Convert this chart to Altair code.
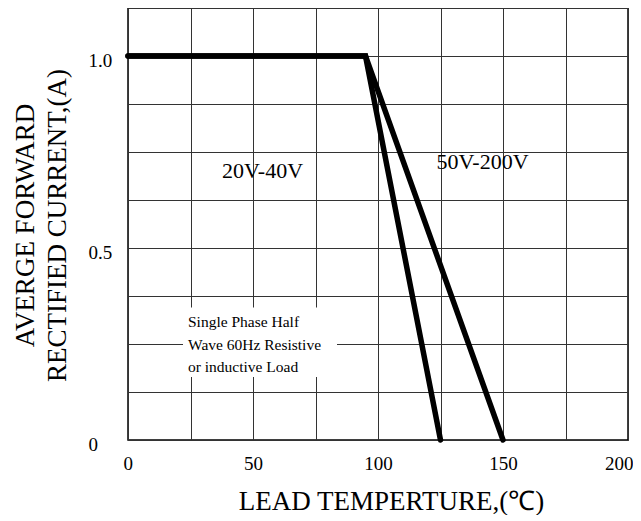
import altair as alt
import pandas as pd

# ---- data ----
series_names = ["20V-40V", "50V-200V"]
temp_20_40 = [0, 95, 125]
current_20_40 = [1.0, 1.0, 0.0]
temp_50_200 = [0, 95, 150]
current_50_200 = [1.0, 1.0, 0.0]

x_grid_values = [0, 25, 50, 75, 100, 125, 150, 175, 200]
x_label_values = [0, 50, 100, 150, 200]
y_grid_values = [0, 0.125, 0.25, 0.375, 0.5, 0.625, 0.75, 0.875, 1.0, 1.125]
y_label_values = [0, 0.5, 1.0]
y_label_texts = ["0", "0.5", "1.0"]

curve_labels = ["20V-40V", "50V-200V"]
curve_label_x = [53.8, 141.8]
curve_label_y = [0.683, 0.7065]

note_lines = ["Single Phase Half", "Wave 60Hz Resistive", "or inductive Load"]
note_x = [24, 24, 24]
note_y = [0.2935, 0.234, 0.177]
note_box = {"x0": [22], "x1": [83.6], "y0": [0.164], "y1": [0.345]}

FONT = "Liberation Serif"

# ---- tables ----
rows = []
for name, ts, cs in [(series_names[0], temp_20_40, current_20_40),
                     (series_names[1], temp_50_200, current_50_200)]:
    for k, (t, c) in enumerate(zip(ts, cs)):
        rows.append({"series": name, "t": t, "i": c, "k": k})
lines_df = pd.DataFrame(rows)
labels_df = pd.DataFrame({"label": curve_labels, "t": curve_label_x, "i": curve_label_y})
note_df = pd.DataFrame({"line": note_lines, "t": note_x, "i": note_y})
box_df = pd.DataFrame(note_box)

xscale = alt.Scale(domain=[0, 200], nice=False, zero=False)
yscale = alt.Scale(domain=[0, 1.125], nice=False, zero=False)

x_label_expr = " || ".join(f"datum.value == {v}" for v in x_label_values)
x_label_expr = f"({x_label_expr}) ? datum.label : ''"
y_label_expr = "''"
for v, s in zip(y_label_values, y_label_texts):
    y_label_expr = f"datum.value == {v} ? '{s}' : ({y_label_expr})"

x_axis = alt.Axis(
    values=x_grid_values, labelExpr=x_label_expr, grid=True, ticks=False, domain=False,
    gridColor="#333333", gridWidth=1, gridOpacity=1,
    labelFont=FONT, labelFontSize=19, labelColor="black", labelPadding=14,
    labelFlush=True, labelFlushOffset=5,
    title="LEAD TEMPERTURE,(℃)", titleFont=FONT, titleFontSize=27, titleFontWeight="normal",
    titleColor="black", titleX=263, titleY=69, titleAlign="center", titleBaseline="alphabetic",
)
y_axis = alt.Axis(
    values=y_grid_values, labelExpr=y_label_expr, grid=True, ticks=False, domain=False,
    gridColor="#333333", gridWidth=1, gridOpacity=1,
    labelFont=FONT, labelFontSize=19, labelColor="black", labelPadding=40,
    labelAlign="left", labelOffset=4, labelFlush=False,
    title=["AVERGE FORWARD", "RECTIFIED CURRENT,(A)"], titleFont=FONT, titleFontSize=27,
    titleFontWeight="normal", titleColor="black", titleX=-95, titleY=217,
    titleAlign="center", titleBaseline="alphabetic", titleLineHeight=32, titleAngle=270,
)

box = alt.Chart(box_df).mark_rect(fill="white", stroke=None).encode(
    x=alt.X("x0:Q", scale=xscale, axis=x_axis),
    x2="x1:Q",
    y=alt.Y("y0:Q", scale=yscale, axis=y_axis),
    y2="y1:Q",
)

notes = alt.Chart(note_df).mark_text(
    font=FONT, fontSize=15.5, color="black", align="left", baseline="alphabetic"
).encode(
    x=alt.X("t:Q", scale=xscale),
    y=alt.Y("i:Q", scale=yscale),
    text="line:N",
)

curve_text = alt.Chart(labels_df).mark_text(
    font=FONT, fontSize=22, color="black", align="center", baseline="alphabetic"
).encode(
    x=alt.X("t:Q", scale=xscale),
    y=alt.Y("i:Q", scale=yscale),
    text="label:N",
)

curves = alt.Chart(lines_df).mark_line(
    color="black", strokeWidth=5.5, strokeCap="round", strokeJoin="miter"
).encode(
    x=alt.X("t:Q", scale=xscale),
    y=alt.Y("i:Q", scale=yscale),
    detail="series:N",
    order="k:Q",
)

chart = alt.layer(box, notes, curve_text, curves).properties(
    width=500, height=432,
    autosize=alt.AutoSizeParams(type="none"),
    padding={"left": 120, "top": 0, "right": 5, "bottom": 75},
    background="white",
).configure_view(stroke="black", strokeWidth=1.5)

chart.save("out.html", embed_options={"renderer": "svg", "actions": False})
